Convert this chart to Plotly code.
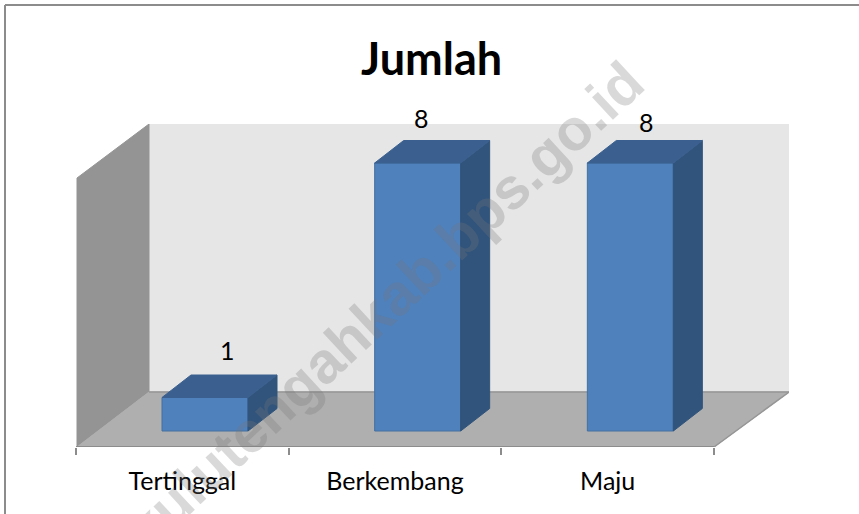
import plotly.graph_objects as go

categories = ["Tertinggal", "Berkembang", "Maju"]
values = [1, 8, 8]
title_text = "Jumlah"
watermark = "bengkulutengahkab.bps.go.id"

W, H = 859, 514
L, R, T, B = 76, 789, 124, 447
UNIT_X = (714 - 76) / 3
ZERO_Y = 431
UNIT_Y = 33.5


def dx(px):
    return (px - L) / UNIT_X - 0.5


def dy(py):
    return (ZERO_Y - py) / UNIT_Y


def px_x(px):
    return (px - L) / (R - L)


def px_y(py):
    return 1 - (py - T) / (B - T)


BAR_W = 86 / UNIT_X
BAR_OFF = dx(162)
DEPTH_X = 29 / UNIT_X
DEPTH_Y = 22.5 / UNIT_Y
LABEL_NUDGE = [(45, 48), (26, 45), (39, 41)]

fig = go.Figure()


def poly(xs, ys, color):
    fig.add_trace(go.Scatter(x=xs, y=ys, mode="lines", fill="toself", fillcolor=color,
                             line=dict(color=color, width=1), hoverinfo="skip",
                             showlegend=False, cliponaxis=False))


def wall(points, color):
    path = "M " + " L ".join(f"{dx(a)},{dy(b)}" for a, b in points) + " Z"
    return dict(type="path", xref="x", yref="y", path=path, fillcolor=color, layer="below",
                line=dict(color=color, width=1))


shapes = [
    wall([(149, 124), (789, 124), (789, 392), (149, 392)], "#e6e6e6"),
    wall([(77, 178), (149, 124), (149, 392), (77, 447)], "#949494"),
    wall([(77, 447), (149, 392), (789, 392), (714, 447)], "#afafaf"),
    dict(type="path", xref="x", yref="y", layer="below", line=dict(color="#969696", width=1.5),
         path=f"M {dx(149)},{dy(392)} L {dx(789)},{dy(392)} L {dx(714)},{dy(447)}"),
    dict(type="line", xref="paper", yref="paper", x0=px_x(5), x1=px_x(W), y0=px_y(5), y1=px_y(5),
         line=dict(color="#8c8c8c", width=2)),
    dict(type="line", xref="paper", yref="paper", x0=px_x(5), x1=px_x(5), y0=px_y(H), y1=px_y(5),
         line=dict(color="#8c8c8c", width=2)),
]

fig.add_trace(go.Scatter(x=[-0.5, 2.5], y=[dy(447), dy(447)], mode="lines",
                         line=dict(color="#8c8c8c", width=2), hoverinfo="skip",
                         showlegend=False, cliponaxis=False))

# Side and top faces of the bars, derived from the values
for i, v in enumerate(values):
    xl = i + BAR_OFF
    xr = xl + BAR_W
    poly([xr, xr + DEPTH_X, xr + DEPTH_X, xr, xr],
         [0, DEPTH_Y, v + DEPTH_Y, v, 0], "#31547c")
    poly([xl, xl + DEPTH_X, xr + DEPTH_X, xr, xl],
         [v, v + DEPTH_Y, v + DEPTH_Y, v, v], "#3b608f")

# Front faces
fig.add_trace(go.Bar(x=list(range(len(categories))), y=values, width=BAR_W, offset=BAR_OFF,
                     marker=dict(color="#4f81bd", line=dict(color="#44709f", width=1)),
                     showlegend=False, hoverinfo="skip"))

annotations = []
for i, v in enumerate(values):
    annotations.append(dict(x=i, y=v, xref="x", yref="y", text=str(v), showarrow=False,
                            xshift=LABEL_NUDGE[i][0], yshift=LABEL_NUDGE[i][1],
                            font=dict(family="Lato", size=25, color="#000000")))
annotations.append(dict(x=px_x(431), y=px_y(58), xref="paper", yref="paper", text=f"<b>{title_text}</b>",
                        xanchor="center", yanchor="middle", showarrow=False,
                        font=dict(family="Lato", size=45, color="#000000")))
annotations.append(dict(x=px_x(333), y=px_y(352), xref="paper", yref="paper", text=f"<b>{watermark}</b>",
                        xanchor="center", yanchor="middle", textangle=-43, showarrow=False,
                        font=dict(family="Liberation Sans", size=58, color="rgba(120,120,120,0.28)")))

fig.update_layout(
    width=W, height=H, autosize=False,
    margin=dict(l=L, r=W - R, t=T, b=H - B),
    paper_bgcolor="white", plot_bgcolor="rgba(0,0,0,0)",
    showlegend=False, shapes=shapes, annotations=annotations,
    xaxis=dict(range=[dx(L), dx(R)], tickmode="array", tickvals=list(range(len(categories))),
               ticktext=categories, ticks="", showgrid=False, zeroline=False, showline=False,
               tickfont=dict(family="Lato", size=25, color="#000000"), ticklabelstandoff=17,
               minor=dict(tickmode="array", tickvals=[-0.5, 0.5, 1.5, 2.5], ticks="outside",
                          ticklen=7, tickwidth=1.5, tickcolor="#8c8c8c", showgrid=False)),
    yaxis=dict(range=[dy(B), dy(T)], visible=False, showgrid=False, zeroline=False),
)
fig.write_html("out.html", config={"displayModeBar": False},
               post_script="document.body.style.margin='0';")
